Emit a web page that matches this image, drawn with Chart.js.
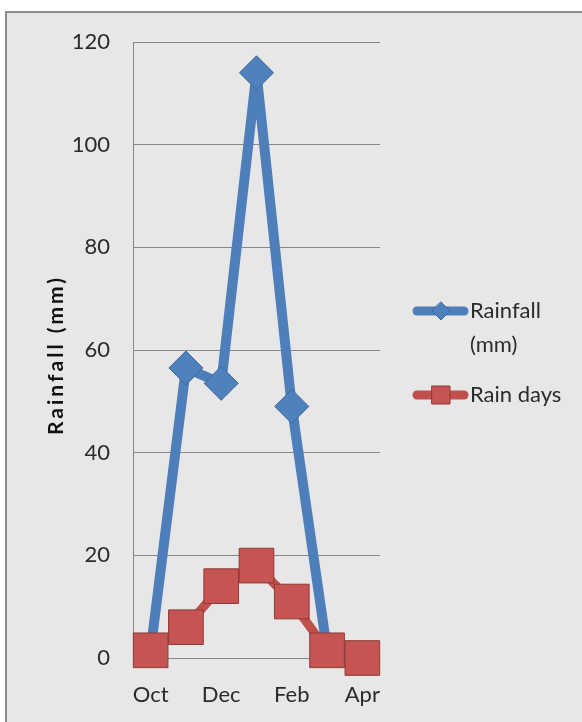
<!DOCTYPE html>
<html>
<head>
<meta charset="utf-8">
<script src="https://cdn.jsdelivr.net/npm/chart.js@4.4.0/dist/chart.umd.min.js"></script>
<style>
  html, body { margin: 0; padding: 0; background: #fff; }
  #wrap { width: 582px; height: 722px; }
</style>
</head>
<body>
<div id="wrap"><canvas id="rain" width="582" height="722"></canvas></div>
<script>
var ctx = document.getElementById('rain').getContext('2d');
/* Rainfall by month */
const months = ['Oct', 'Nov', 'Dec', 'Jan', 'Feb', 'Mar', 'Apr'];
const rainfall = [1.5, 56.5, 53.5, 114, 49, 1.5, 0];
const rainDays = [1.5, 6, 14, 18, 11, 1.5, 0];
const yTicks = [0, 20, 40, 60, 80, 100, 120];

const blue = '#4f7fba';
const red = '#c0504d';

// background panel with grey frame
const frame = {
    id: 'frame',
    beforeDraw(chart) {
        const c = chart.ctx;
        c.save();
        c.fillStyle = '#ffffff';
        c.fillRect(0, 0, chart.width, chart.height);
        c.fillStyle = '#e7e7e7';
        c.fillRect(6, 12, chart.width, chart.height);
        c.strokeStyle = '#8c8c8c';
        c.lineWidth = 2;
        c.beginPath();
        c.moveTo(6, chart.height + 5);
        c.lineTo(6, 12);
        c.lineTo(chart.width + 5, 12);
        c.stroke();
        c.restore();
    }
};

// y title drawn by hand (spaced out like the original)
const yTitle = {
    id: 'yTitle',
    afterDraw(chart) {
        const c = chart.ctx;
        const a = chart.chartArea;
        c.save();
        c.translate(56, (a.top + a.bottom) / 2 + 5);
        c.rotate(-Math.PI / 2);
        c.fillStyle = '#111111';
        c.font = 'bold 21px Lato';
        c.letterSpacing = '3px';
        c.textAlign = 'center';
        c.textBaseline = 'middle';
        c.fillText('Rainfall (mm)', 0, 0);
        c.restore();
    }
};

// legend drawn by hand so "Rainfall (mm)" can wrap
const sideLegend = {
    id: 'sideLegend',
    afterDraw(chart) {
        const c = chart.ctx;
        const items = [
            {ds: chart.data.datasets[1], lines: ['Rainfall', '(mm)'], y: 311, shape: 'diamond'},
            {ds: chart.data.datasets[0], lines: ['Rain days'], y: 395, shape: 'square'}
        ];
        c.save();
        items.forEach(function (it) {
            c.strokeStyle = it.ds.borderColor;
            c.lineWidth = 9;
            c.lineCap = 'round';
            c.beginPath();
            c.moveTo(417, it.y);
            c.lineTo(464, it.y);
            c.stroke();
            c.fillStyle = it.ds.pointBackgroundColor;
            c.strokeStyle = it.ds.pointBorderColor;
            c.lineWidth = 1;
            c.beginPath();
            if (it.shape === 'diamond') {
                c.moveTo(441, it.y - 9);
                c.lineTo(450, it.y);
                c.lineTo(441, it.y + 9);
                c.lineTo(432, it.y);
                c.closePath();
            } else {
                c.rect(432, it.y - 9, 18, 18);
            }
            c.fill();
            c.stroke();
            c.fillStyle = '#2b2b2b';
            c.font = '22px Lato';
            c.textBaseline = 'middle';
            c.textAlign = 'left';
            it.lines.forEach(function (t, i) {
                c.fillText(t, 470, it.y + i * 34);
            });
        });
        c.restore();
    }
};

var myChart = new Chart(ctx, {
    type: 'line',
    data: {
        labels: months,
        datasets: [{
            label: 'Rain days',
            data: rainDays,
            borderColor: red,
            borderWidth: 9,
            borderJoinStyle: 'round',
            pointStyle: 'rect',
            pointRadius: 24.5,
            pointBackgroundColor: '#c65452',
            pointBorderColor: '#8e3a38',
            pointBorderWidth: 1,
            clip: false,
            order: 1
        }, {
            label: 'Rainfall (mm)',
            data: rainfall,
            borderColor: blue,
            borderWidth: 10,
            borderJoinStyle: 'round',
            pointStyle: 'rectRot',
            pointRadius: 17,
            pointBackgroundColor: '#4f81bd',
            pointBorderColor: '#3d6797',
            pointBorderWidth: 1,
            clip: false,
            order: 2
        }]
    },
    options: {
        responsive: false,
        animation: false,
        layout: {
            padding: {top: 42, right: 202, bottom: 0, left: 0}
        },
        plugins: {
            legend: {display: false},
            tooltip: {enabled: false}
        },
        scales: {
            x: {
                offset: true,
                grid: {display: false},
                border: {display: false},
                ticks: {
                    autoSkip: false,
                    maxRotation: 0,
                    padding: 16,
                    color: '#2b2b2b',
                    font: {family: 'Lato', size: 22},
                    callback: function (v, i) { return i % 2 === 0 ? months[i] : ''; }
                },
                afterFit: function (s) { s.height = 64; }
            },
            y: {
                min: 0,
                max: 120,
                afterBuildTicks: function (s) { s.ticks = yTicks.map(function (v) { return {value: v}; }); },
                grid: {color: '#878787', lineWidth: 1, drawTicks: false},
                border: {display: true, color: '#878787', width: 1},
                ticks: {
                    padding: 23,
                    color: '#2b2b2b',
                    font: {family: 'Lato', size: 22}
                },
                title: {display: false},
                afterFit: function (s) { s.width = 133; }
            }
        }
    },
    plugins: [frame, yTitle, sideLegend]
});
</script>
</body>
</html>
